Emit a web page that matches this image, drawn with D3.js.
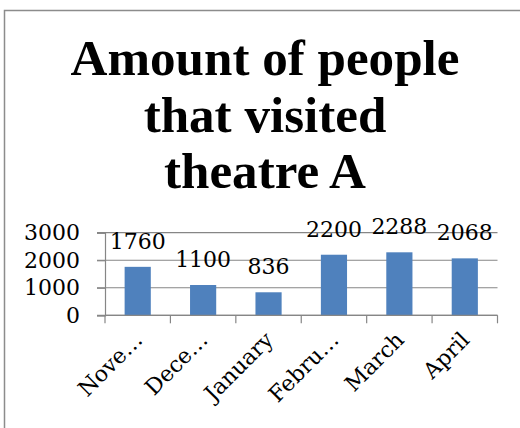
<!DOCTYPE html>
<html>
<head>
<meta charset="utf-8">
<script src="https://cdn.jsdelivr.net/npm/d3@7"></script>
<style>
  body { margin: 0; background: #fff; }
</style>
</head>
<body>
<svg width="520" height="428"></svg>
<script>
const months = ['Nove…', 'Dece…', 'January', 'Febru…', 'March', 'April'];
const visitors = [1760, 1100, 836, 2200, 2288, 2068];
const yTicks = [0, 1000, 2000, 3000];
const titleLines = ['Amount of people', 'that visited', 'theatre A'];

const svg = d3.select('svg');
const width = +svg.attr('width');
const height = +svg.attr('height');

const labelFont = '"DejaVu Serif", serif';
const titleFont = '"Liberation Serif", serif';

// outer chart frame, runs off the right and bottom edges
svg.append('rect')
  .attr('x', 4.5)
  .attr('y', 10.5)
  .attr('width', width + 20)
  .attr('height', height + 20)
  .attr('fill', 'none')
  .attr('stroke', '#8c8c8c')
  .attr('stroke-width', 1.5);

// title, sized so the first line is as wide as in the picture
const title = svg.append('g');
const line0 = title.append('text')
  .style('font-family', titleFont)
  .style('font-weight', 'bold')
  .style('font-size', '40px')
  .text(titleLines[0]);
const fitSize = 40 * 389 / line0.node().getComputedTextLength();
line0.remove();

title.selectAll('text')
  .data(titleLines)
  .join('text')
    .attr('x', 265)
    .attr('y', (d, i) => 75 + i * 56.5)
    .attr('text-anchor', 'middle')
    .style('font-family', titleFont)
    .style('font-weight', 'bold')
    .style('font-size', fitSize + 'px')
    .attr('fill', '#000')
    .text(d => d);

const x = d3.scaleBand()
  .domain(months)
  .range([105, 497.5])
  .paddingInner(0.6)
  .paddingOuter(0.3);

const y = d3.scaleLinear()
  .domain([0, 3000])
  .range([315.3, 232.7]);

const axisColor = '#868686';

// gridlines (they also form the left tick marks)
svg.append('g')
  .selectAll('line')
  .data(yTicks)
  .join('line')
    .attr('x1', 97)
    .attr('x2', 497.5)
    .attr('y1', d => y(d))
    .attr('y2', d => y(d))
    .attr('stroke', axisColor)
    .attr('stroke-width', 1.2);

// bars
svg.append('g')
  .selectAll('rect')
  .data(visitors)
  .join('rect')
    .attr('x', (d, i) => x(months[i]))
    .attr('y', d => y(d))
    .attr('width', x.bandwidth())
    .attr('height', d => y(0) - y(d))
    .attr('fill', '#4f81bd');

// y axis
const yAxis = svg.append('g')
  .attr('transform', 'translate(105,0)')
  .call(d3.axisLeft(y).tickValues(yTicks).tickSize(8).tickPadding(17).tickFormat(d3.format('d')));
yAxis.select('.domain').attr('stroke', axisColor).attr('stroke-width', 1.2);
yAxis.selectAll('.tick line').attr('stroke', axisColor).attr('stroke-width', 1.2);
yAxis.selectAll('.tick text')
  .attr('font-family', labelFont)
  .attr('font-size', 22)
  .attr('fill', '#000');

// x axis: plain line with ticks between categories
const xLine = svg.append('g');
xLine.append('line')
  .attr('x1', 105).attr('x2', 497.5)
  .attr('y1', y(0)).attr('y2', y(0))
  .attr('stroke', axisColor).attr('stroke-width', 1.2);
xLine.selectAll('.sep')
  .data(d3.range(months.length + 1))
  .join('line')
    .attr('class', 'sep')
    .attr('x1', i => 105 + i * x.step())
    .attr('x2', i => 105 + i * x.step())
    .attr('y1', y(0))
    .attr('y2', y(0) + 8)
    .attr('stroke', axisColor).attr('stroke-width', 1.2);

// category labels, rotated 45 degrees
svg.append('g')
  .selectAll('text')
  .data(months)
  .join('text')
    .attr('transform', d => `translate(${x(d) + x.bandwidth() / 2 + 6},${y(0) + 26}) rotate(-45)`)
    .attr('text-anchor', 'end')
    .attr('font-family', labelFont)
    .attr('font-size', 22)
    .attr('fill', '#000')
    .text(d => d);

// value labels above the bars
svg.append('g')
  .selectAll('text')
  .data(visitors)
  .join('text')
    .attr('x', (d, i) => x(months[i]) + x.bandwidth() / 2)
    .attr('y', d => y(d) - 18)
    .attr('text-anchor', 'middle')
    .attr('font-family', labelFont)
    .attr('font-size', 22)
    .attr('fill', '#000')
    .text(d => d);
</script>
</body>
</html>
